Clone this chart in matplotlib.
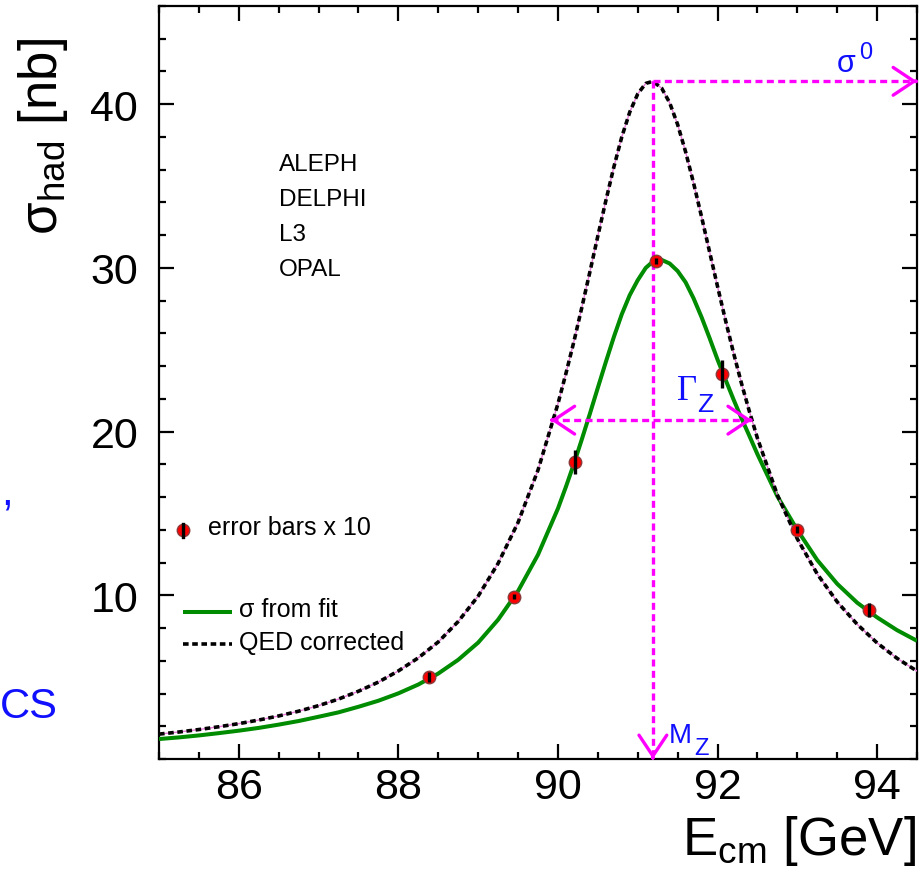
import matplotlib
matplotlib.use('Agg')
import matplotlib.pyplot as plt
from matplotlib.ticker import MultipleLocator, FixedLocator

plt.rcParams['font.family'] = ['Liberation Sans', 'DejaVu Sans']
plt.rcParams['mathtext.fontset'] = 'custom'
plt.rcParams['mathtext.rm'] = 'Liberation Sans'
plt.rcParams['mathtext.it'] = 'Liberation Sans:italic'
plt.rcParams['mathtext.bf'] = 'Liberation Sans:bold'

# ---------------- data ----------------
energy = [88.38, 89.45, 90.21, 91.23, 92.05, 92.99, 93.90]
sigma_meas = [5.0, 9.9, 18.15, 30.4, 23.5, 14.0, 9.1]
sigma_err10 = [0.32, 0.15, 0.72, 0.18, 0.85, 0.22, 0.42]

curve_e = [85.0, 85.25, 85.5, 85.75, 86.0, 86.25, 86.5, 86.75, 87.0, 87.25,
           87.5, 87.75, 88.0, 88.25, 88.5, 88.75, 89.0, 89.25, 89.5, 89.75,
           90.0, 90.1, 90.2, 90.3, 90.4, 90.5, 90.6, 90.7, 90.8, 90.9, 91.0,
           91.1, 91.19, 91.3, 91.4, 91.5, 91.6, 91.7, 91.8, 91.9, 92.0, 92.1,
           92.2, 92.3, 92.4, 92.5, 92.75, 93.0, 93.25, 93.5, 93.75, 94.0,
           94.25, 94.5]
qed_sigma = [1.52, 1.65, 1.80, 1.97, 2.16, 2.38, 2.63, 2.92, 3.26, 3.66,
             4.14, 4.70, 5.38, 6.18, 7.15, 8.40, 9.95, 11.95, 14.45, 17.65,
             21.70, 23.55, 25.50, 27.60, 29.75, 31.95, 34.10, 36.15, 38.00, 39.52, 40.63,
             41.27, 41.40, 40.98, 40.09, 38.76, 37.09, 35.18, 33.12, 30.99, 28.87, 26.80,
             24.82, 22.95, 21.22, 19.60, 16.13, 13.45, 11.30, 9.60, 8.23, 7.09,
             6.15, 5.37]
fit_sigma = [1.22, 1.32, 1.44, 1.58, 1.73, 1.90, 2.10, 2.32, 2.58, 2.85,
             3.19, 3.56, 4.01, 4.55, 5.22, 6.06, 7.11, 8.51, 10.26, 12.48,
             15.30, 16.63, 18.03, 19.54, 21.09, 22.68, 24.25, 25.77, 27.17, 28.34, 29.25,
             30.00, 30.39, 30.49, 30.27, 29.81, 29.12, 28.14, 26.99, 25.72, 24.40, 23.18,
             21.97, 20.82, 19.73, 18.62, 16.05, 13.99, 12.15, 10.70, 9.55, 8.65,
             7.87, 7.22]

M_Z = 91.19
sigma0 = 41.4
gamma_lo, gamma_hi = 89.91, 92.43
half_max = 20.7

experiments = ['ALEPH', 'DELPHI', 'L3', 'OPAL']
x_ticks = [86, 88, 90, 92, 94]
y_ticks = [10, 20, 30, 40]

# ---------------- figure ----------------
W, H = 920, 870
fig = plt.figure(figsize=(W / 100, H / 100), dpi=100)
L, R, T, B = 159, 917, 7, 760
ax = fig.add_axes([L / W, 1 - B / H, (R - L) / W, (B - T) / H])

def fx(px):
    return px / W

def fy(py):
    return 1 - py / H

def axx(px):
    return (px - L) / (R - L)

def axy(py):
    return (B - py) / (B - T)

ax.set_xlim(85, 94.5)
ax.set_ylim(0, 46)
ax.xaxis.set_major_locator(FixedLocator(x_ticks))
ax.xaxis.set_minor_locator(MultipleLocator(0.5))
ax.yaxis.set_major_locator(FixedLocator(y_ticks))
ax.yaxis.set_minor_locator(MultipleLocator(2))
ax.tick_params(which='both', direction='in', top=True, right=True, width=1.6,
               color='black')
ax.tick_params(which='major', length=10.5)
ax.tick_params(which='minor', length=5.2)
ax.tick_params(axis='x', which='major', labelsize=31, pad=6)
ax.tick_params(axis='y', which='major', labelsize=31, pad=15)
for s in ax.spines.values():
    s.set_linewidth(1.6)

magenta = '#ff00ff'
blue = '#1010ff'
dots = (0, (2.1, 1.3))
qed_dash = (0, (1.55, 1.0))

# curves
ax.plot(curve_e, fit_sigma, color='#008c00', lw=2.9, zorder=3,
        solid_capstyle='butt', solid_joinstyle='round')
ax.plot(curve_e, qed_sigma, color='#e878d8', lw=1.0, zorder=4)
ax.plot(curve_e, qed_sigma, color='black', lw=2.6, ls=qed_dash,
        dash_capstyle='butt', zorder=4.1)

# magenta construction lines
xmax = ax.get_xlim()[1]
ymin = ax.get_ylim()[0]
ax.plot([M_Z, M_Z], [sigma0, ymin + 0.3], color=magenta, lw=2.4, ls=dots,
        dash_capstyle='butt', zorder=5, clip_on=False)
ax.plot([M_Z, xmax], [sigma0, sigma0], color=magenta, lw=2.4, ls=dots,
        dash_capstyle='butt', zorder=5, clip_on=False)
ax.plot([gamma_lo, gamma_hi], [half_max, half_max], color=magenta, lw=2.4,
        ls=dots, dash_capstyle='butt', zorder=5)

def head(xy, dx, dy):
    ax.annotate('', xy=xy, xytext=(dx, dy), textcoords='offset points',
                arrowprops=dict(arrowstyle='->,head_length=0.75,head_width=0.5',
                                color=magenta, lw=2.4, shrinkA=0, shrinkB=0,
                                mutation_scale=20),
                zorder=6, annotation_clip=False)

head((xmax, sigma0), -1, 0)
head((M_Z, ymin), 0, 1)
head((gamma_lo, half_max), 1, 0)
head((gamma_hi, half_max), -1, 0)

# data points
ax.plot(energy, sigma_meas, 'o', ms=9, mfc='#ff0000', mec='#8a3a3a', mew=1.0,
        zorder=7)
ax.errorbar(energy, sigma_meas, yerr=sigma_err10, fmt='none', ecolor='black',
            elinewidth=2.4, capsize=0, zorder=8)

# annotation labels
fig.text(fx(837), fy(72), 'σ', color=blue, fontsize=22, ha='left', va='baseline')
fig.text(fx(859), fy(59), '0', color=blue, fontsize=17, ha='left', va='baseline')
fig.text(fx(677), fy(400), 'Γ', color=blue, fontsize=25, ha='left', va='baseline',
         family=['Liberation Serif', 'DejaVu Serif'])
fig.text(fx(697), fy(412), 'Z', color=blue, fontsize=19, ha='left', va='baseline')
fig.text(fx(669), fy(743), 'M', color=blue, fontsize=20, ha='left', va='baseline')
fig.text(fx(694), fy(755), 'Z', color=blue, fontsize=17, ha='left', va='baseline')

# experiments
for i, name in enumerate(experiments):
    fig.text(fx(279), fy(171 + 35 * i), name, fontsize=17.5, ha='left',
             va='baseline')

# legend-like entries
ax.plot([axx(183)], [axy(531)], 'o', ms=9, mfc='#ff0000', mec='#8a3a3a', mew=1.0,
        transform=ax.transAxes, zorder=7)
ax.plot([axx(183), axx(183)], [axy(525), axy(538)], color='black', lw=2.4,
        transform=ax.transAxes, zorder=8)
fig.text(fx(208), fy(535), 'error bars x 10', fontsize=18, ha='left', va='baseline')
ax.plot([axx(183), axx(232)], [axy(613), axy(613)], color='#008c00', lw=2.9,
        transform=ax.transAxes, solid_capstyle='butt')
fig.text(fx(239), fy(617), 'σ from fit', fontsize=18, ha='left', va='baseline')
ax.plot([axx(183), axx(232)], [axy(645), axy(645)], color='black', lw=2.6,
        ls=qed_dash, dash_capstyle='butt', transform=ax.transAxes)
fig.text(fx(239), fy(650), 'QED corrected', fontsize=18, ha='left', va='baseline')

# axis titles
fig.text(fx(916), fy(855), r'E$_{\rm cm}$ [GeV]', fontsize=38, ha='right',
         va='baseline')
fig.text(fx(43), fy(38), r'σ$_{\rm had}$ [nb]', fontsize=38, ha='center',
         va='top', rotation=90)

# cut-off fragments at the left edge
fig.text(fx(0), fy(718), 'CS', color=blue, fontsize=30, ha='left', va='baseline')
fig.text(fx(1), fy(505), ',', color=blue, fontsize=30, ha='left', va='baseline')

fig.savefig('out.png', dpi=100)
